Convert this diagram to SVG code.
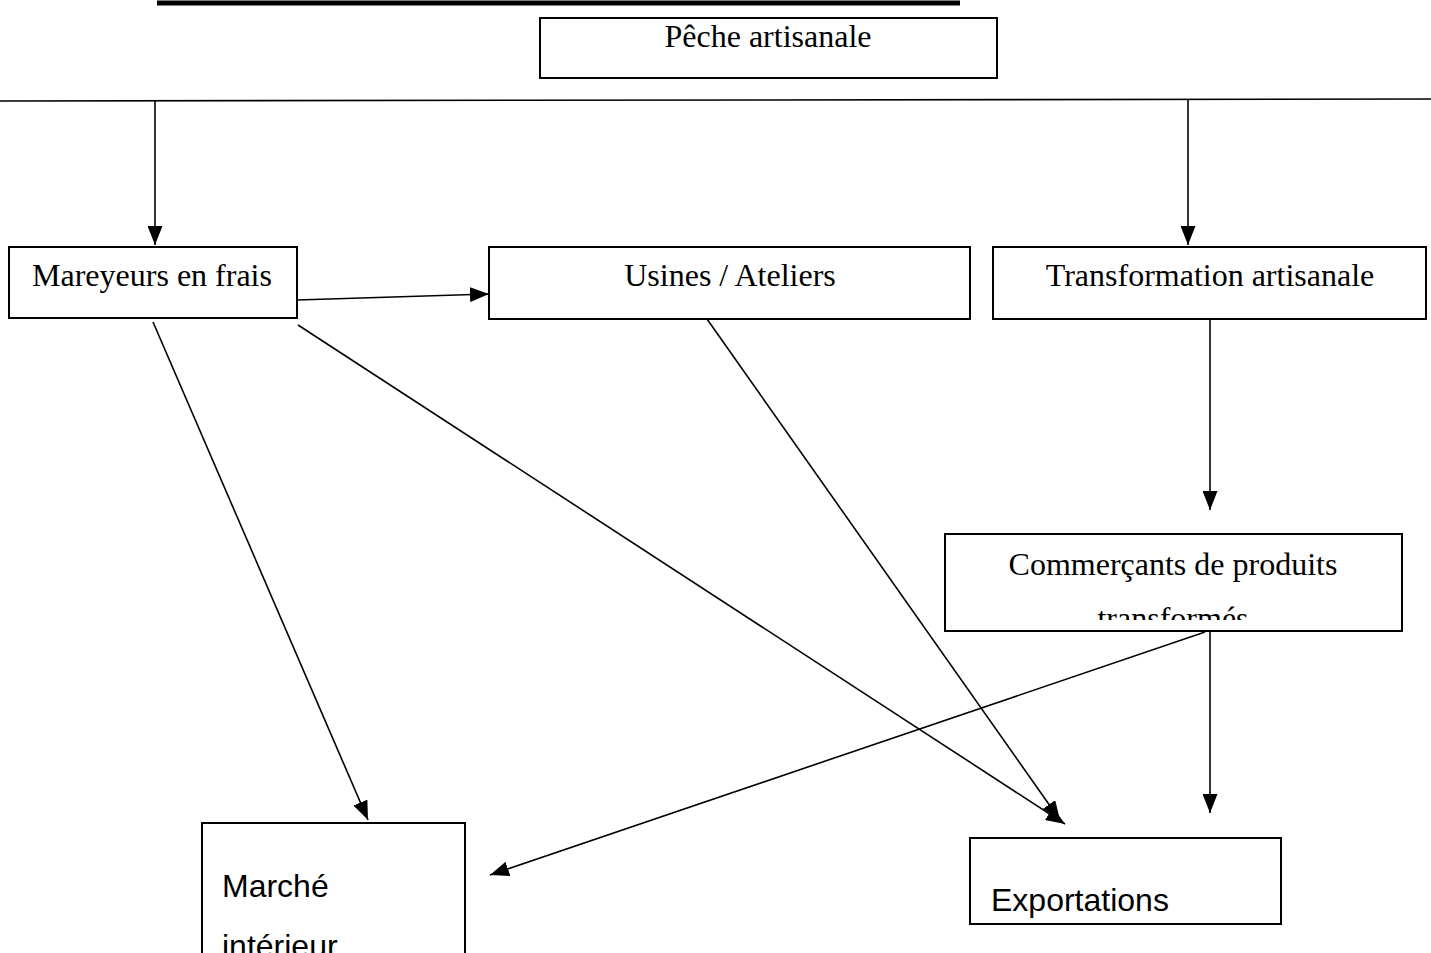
<svg xmlns="http://www.w3.org/2000/svg" width="1431" height="953" viewBox="0 0 1431 953">
<defs>
<style>
.box{fill:#fff;stroke:#000;stroke-width:2}
.ser{font-family:"Liberation Serif","Times New Roman",serif;font-size:32px;fill:#000}
.san{font-family:"Liberation Sans",Arial,sans-serif;font-size:32px;fill:#000}
.c{fill:none;stroke:#000;stroke-width:1.6}
</style>
<marker id="ah" markerUnits="userSpaceOnUse" markerWidth="19" markerHeight="15" viewBox="0 0 19 15" refX="19" refY="7.5" orient="auto">
<path d="M0,0 L19,7.5 L0,15 z" fill="#000"/>
</marker>
<clipPath id="cpC"><rect x="946" y="535" width="455" height="85"/></clipPath>
</defs>
<rect width="1431" height="953" fill="#fff"/>
<line x1="157" y1="3" x2="960" y2="3" stroke="#000" stroke-width="5"/>
<g id="connectors">
<line class="c" x1="0" y1="101" x2="1431" y2="99"/>
<line class="c" x1="155" y1="100" x2="155" y2="245" marker-end="url(#ah)"/>
<line class="c" x1="1188" y1="100" x2="1188" y2="245" marker-end="url(#ah)"/>
<line class="c" x1="297" y1="300" x2="489" y2="294" marker-end="url(#ah)"/>
<line class="c" x1="153" y1="322" x2="368" y2="820" marker-end="url(#ah)"/>
<line class="c" x1="298" y1="325" x2="1065" y2="824" marker-end="url(#ah)"/>
<line class="c" x1="707" y1="319" x2="1060" y2="820" marker-end="url(#ah)"/>
<line class="c" x1="1210" y1="319" x2="1210" y2="510" marker-end="url(#ah)"/>
<line class="c" x1="1205" y1="632" x2="490" y2="875" marker-end="url(#ah)"/>
<line class="c" x1="1210" y1="632" x2="1210" y2="813" marker-end="url(#ah)"/>
</g>
<g id="peche">
<rect class="box" x="540" y="18" width="457" height="60"/>
<text class="ser" x="768" y="47" text-anchor="middle">Pêche artisanale</text>
</g>
<g id="mareyeurs">
<rect class="box" x="9" y="247" width="288" height="71"/>
<text class="ser" x="152" y="286" text-anchor="middle">Mareyeurs en frais</text>
</g>
<g id="usines">
<rect class="box" x="489" y="247" width="481" height="72"/>
<text class="ser" x="730" y="286" text-anchor="middle">Usines / Ateliers</text>
</g>
<g id="transformation">
<rect class="box" x="993" y="247" width="433" height="72"/>
<text class="ser" x="1210" y="286" text-anchor="middle">Transformation artisanale</text>
</g>
<g id="commercants">
<rect class="box" x="945" y="534" width="457" height="97"/>
<text class="ser" x="1173" y="575" text-anchor="middle">Commerçants de produits</text>
<text class="ser" x="1173" y="629" text-anchor="middle" clip-path="url(#cpC)">transformés</text>
</g>
<g id="marche">
<rect class="box" x="202" y="823" width="263" height="140"/>
<text class="san" x="222" y="897">Marché</text>
<text class="san" x="222" y="957">intérieur</text>
</g>
<g id="exportations">
<rect class="box" x="970" y="838" width="311" height="86"/>
<text class="san" x="991" y="911">Exportations</text>
</g>
</svg>
